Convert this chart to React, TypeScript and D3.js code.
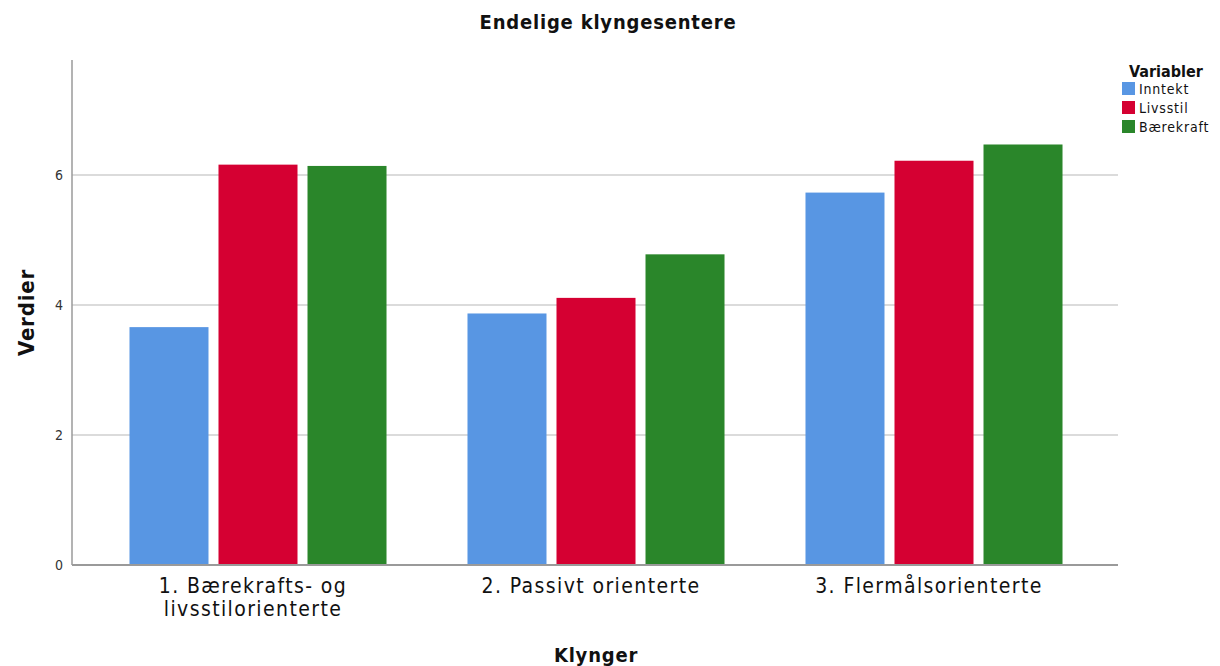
import React, { useEffect, useRef } from "react";
import * as d3 from "d3";

const categories = ["1. Bærekrafts- og|livsstilorienterte", "2. Passivt orienterte", "3. Flermålsorienterte"];
const series = ["Inntekt", "Livsstil", "Bærekraft"];
const inntekt = [3.66, 3.87, 5.73];
const livsstil = [6.16, 4.11, 6.22];
const baerekraft = [6.14, 4.78, 6.47];
const yTicks = [0, 2, 4, 6];
const colors = ["#5896E3", "#D50032", "#2A862A"];

const font = "'DejaVu Sans Condensed', 'DejaVu Sans', sans-serif";

const App: React.FC = () => {
  const svgRef = useRef<SVGSVGElement>(null);

  useEffect(() => {
    const values = [inntekt, livsstil, baerekraft];
    const svg = d3.select(svgRef.current);
    svg.selectAll("*").remove();

    const left = 72;
    const right = 1118;
    const top = 60;
    const bottom = 565;

    const y = d3.scaleLinear().domain([0, 7.77]).range([bottom, top]);
    const x0 = d3
      .scaleBand()
      .domain(categories)
      .range([89, 1103])
      .paddingInner(0.21)
      .paddingOuter(0.105);
    const x1 = d3.scaleBand().domain(series).range([0, x0.bandwidth()]);

    // title
    svg
      .append("text")
      .attr("x", 608)
      .attr("y", 29)
      .attr("text-anchor", "middle")
      .attr("font-family", font)
      .attr("font-weight", "bold")
      .attr("font-size", 20)
      .attr("letter-spacing", 0.8)
      .attr("fill", "#111")
      .text("Endelige klyngesentere");

    // grid
    svg
      .append("g")
      .selectAll("line")
      .data(yTicks.filter((d) => d > 0))
      .enter()
      .append("line")
      .attr("x1", left)
      .attr("x2", right)
      .attr("y1", (d) => y(d))
      .attr("y2", (d) => y(d))
      .attr("stroke", "#cfcfcf")
      .attr("stroke-width", 1.5);

    // y tick labels
    svg
      .append("g")
      .selectAll("text")
      .data(yTicks)
      .enter()
      .append("text")
      .attr("x", 63)
      .attr("y", (d) => y(d) + 5)
      .attr("text-anchor", "end")
      .attr("font-family", font)
      .attr("font-size", 14)
      .attr("fill", "#333")
      .text((d) => d);

    // bars
    const groups = svg
      .append("g")
      .selectAll("g")
      .data(categories)
      .enter()
      .append("g")
      .attr("transform", (c) => `translate(${x0(c)},0)`);

    groups
      .selectAll("rect")
      .data((c, i) => series.map((s, j) => ({ s, v: values[j][i], j })))
      .enter()
      .append("rect")
      .attr("x", (d) => x1(d.s)! + 5)
      .attr("width", x1.bandwidth() - 10)
      .attr("y", (d) => y(d.v))
      .attr("height", (d) => y(0) - y(d.v))
      .attr("fill", (d) => colors[d.j]);

    // axes lines
    svg
      .append("line")
      .attr("x1", left)
      .attr("x2", left)
      .attr("y1", top)
      .attr("y2", bottom)
      .attr("stroke", "#9a9a9a")
      .attr("stroke-width", 1.5);
    svg
      .append("line")
      .attr("x1", left)
      .attr("x2", right)
      .attr("y1", bottom)
      .attr("y2", bottom)
      .attr("stroke", "#9a9a9a")
      .attr("stroke-width", 2);

    // x tick labels
    const xl = svg
      .append("g")
      .selectAll("text")
      .data(categories)
      .enter()
      .append("text")
      .attr("text-anchor", "middle")
      .attr("font-family", font)
      .attr("font-size", 21)
      .attr("letter-spacing", 1.4)
      .attr("fill", "#111");
    xl.each(function (c) {
      const t = d3.select(this);
      const cx = x0(c)! + x0.bandwidth() / 2 - 5;
      c.split("|").forEach((line, k) => {
        t.append("tspan").attr("x", cx).attr("y", 593 + k * 23).text(line);
      });
    });

    // axis titles
    svg
      .append("text")
      .attr("x", 596)
      .attr("y", 662)
      .attr("text-anchor", "middle")
      .attr("font-family", font)
      .attr("font-weight", "bold")
      .attr("font-size", 20)
      .attr("letter-spacing", 0.8)
      .attr("fill", "#111")
      .text("Klynger");
    svg
      .append("text")
      .attr("transform", `translate(34,${(top + bottom) / 2}) rotate(-90)`)
      .attr("text-anchor", "middle")
      .attr("font-family", font)
      .attr("font-weight", "bold")
      .attr("font-size", 22)
      .attr("letter-spacing", 0.8)
      .attr("fill", "#111")
      .text("Verdier");

    // legend
    const lg = svg.append("g");
    lg.append("text")
      .attr("x", 1129)
      .attr("y", 77)
      .attr("font-family", font)
      .attr("font-weight", "bold")
      .attr("font-size", 16)
      .attr("fill", "#111")
      .text("Variabler");
    const items = lg
      .selectAll("g")
      .data(series)
      .enter()
      .append("g")
      .attr("transform", (d, i) => `translate(1122,${82 + i * 19})`);
    items
      .append("rect")
      .attr("width", 13)
      .attr("height", 13)
      .attr("fill", (d, i) => colors[i]);
    items
      .append("text")
      .attr("x", 17)
      .attr("y", 12)
      .attr("font-family", font)
      .attr("font-size", 14)
      .attr("letter-spacing", 0.8)
      .attr("fill", "#111")
      .text((d) => d);
  }, []);

  return (
    <div>
      <svg ref={svgRef} width={1220} height={666} style={{ position: "absolute", left: 0, top: 0 }}></svg>
    </div>
  );
};

export default App;
